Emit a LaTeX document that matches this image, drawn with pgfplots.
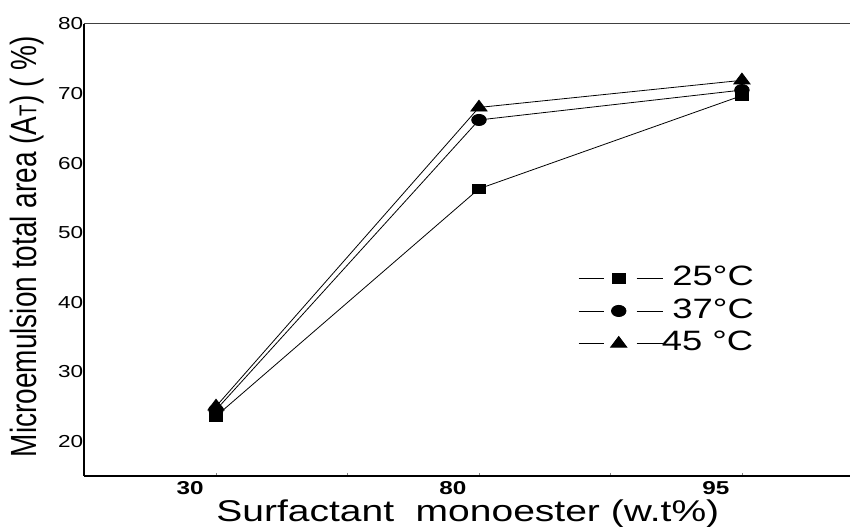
\documentclass[border=0pt]{standalone}
\usepackage{pgfplots}
\pgfplotsset{compat=1.18}
\usepackage{fontspec}
\setmainfont{Liberation Sans}
\usepackage{graphicx}

% the source figure is stretched sideways, so text gets the same stretch
\newcommand{\hs}[1]{\scalebox{1.3}[1]{#1}}

\begin{document}
\begin{tikzpicture}
\path[use as bounding box] (0pt,0pt) rectangle (637.5pt,395.25pt);
\begin{axis}[
  at={(63pt,38.25pt)}, anchor=south west,
  scale only axis, width=574.5pt, height=339pt,
  xmin=-0.502, xmax=2.411, ymin=15, ymax=80,
  axis x line*=bottom, axis y line*=left,
  axis line style={-, line width=1.5pt, black},
  xtick={0,1,2}, xticklabels={\hs{30},\hs{80},\hs{95}},
  minor xtick={0.5,1.5},
  tick align=inside,
  x tick style={gray, line width=0.5pt},
  major tick length=2pt, minor tick length=2pt,
  ytick={20,30,...,80},
  yticklabels={\hs{20},\hs{30},\hs{40},\hs{50},\hs{60},\hs{70},\hs{80}},
  y tick style={draw=none},
  xticklabel style={font=\bfseries\fontsize{14}{14}\selectfont, xshift=-19.5pt, yshift=-0.5pt},
  yticklabel style={font=\fontsize{13}{13}\selectfont, anchor=east, inner sep=0pt, xshift=-0.5pt},
  xlabel={\hs{Surfactant\ \ monoester (w.t\%)}},
  xlabel style={font=\fontsize{22.5}{22.5}\selectfont, at={([yshift=-28pt]rel axis cs:0.501,0)}, anchor=center},
  ylabel={\scalebox{1}[1.3]{Microemulsion total area (A{\fontsize{14}{14}\selectfont T}) ( \%)}},
  ylabel style={font=\fontsize{21}{21}\selectfont, at={([xshift=-42.75pt]rel axis cs:0,0.507)}, anchor=center},
  every axis plot/.append style={black, line width=0.6pt},
  legend style={at={(rel axis cs:0.645,0.466)}, anchor=north west, draw=none, fill=none,
    font=\fontsize{21}{21}\selectfont, row sep=5.5pt, inner sep=0pt,
    nodes={text height=15pt, text depth=4pt, inner sep=0pt}},
  legend cell align=left,
  legend image code/.code={
    \draw[#1,mark=none] (0pt,0pt) -- (18.75pt,0pt);
    \draw[#1,mark=none] (43.5pt,0pt) -- (63pt,0pt);
    \draw[#1] plot coordinates {(30pt,0pt)};
  },
  after end axis/.code={
    \draw[black!75, line width=0.75pt] (rel axis cs:0,1) -- (rel axis cs:1,1);
  },
]
\addplot[mark=square*, mark size=3.6pt, mark options={fill=black, xscale=1.35}]
  coordinates {(0,23.6) (1,56.3) (2,69.7)};
\addplot[mark=*, mark size=4.2pt, mark options={fill=black, xscale=1.3}]
  coordinates {(0,24.5) (1,66.2) (2,70.5)};
\addplot[mark=triangle*, mark size=5.4pt, mark options={fill=black, xscale=1.3}]
  coordinates {(0,25.0) (1,68.0) (2,71.9)};
\legend{\hspace{7pt}\hs{25°C}, \hspace{7pt}\hs{37°C}, \hspace{-1pt}\hs{45 °C}}
\end{axis}
\end{tikzpicture}
\end{document}
